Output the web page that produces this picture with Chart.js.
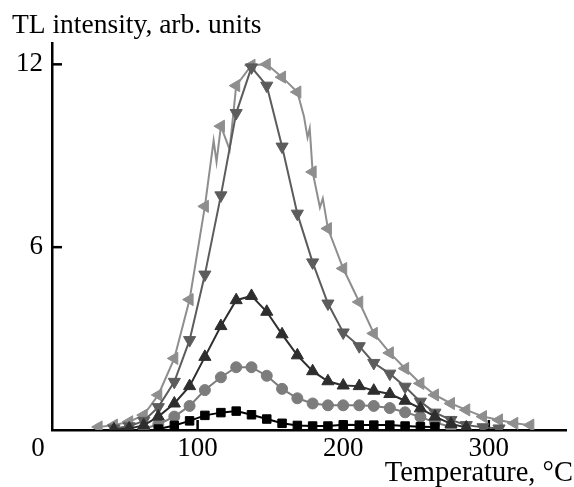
<!DOCTYPE html>
<html>
<head>
<meta charset="utf-8">
<script src="https://cdn.jsdelivr.net/npm/chart.js@4.4.1/dist/chart.umd.min.js"></script>
<style>
html,body{margin:0;padding:0;background:#fff;}
#wrap{width:574px;height:487px;position:relative;}
</style>
</head>
<body>
<div id="wrap"><canvas id="c" width="574" height="487"></canvas></div>
<script>
// Temperature grid (°C) shared by all marker series
const temps = [32, 42.5, 53, 63, 73, 84, 94.5, 105, 116, 126.5, 137, 147.5, 158, 168.5, 179, 189.5, 200, 211, 221, 232, 242.5, 253, 263, 274, 284.5, 296, 307, 317.5, 328.5];

// Series values (arb. units), null = no point
const squares = [null, null, null, null, 0.03, 0.15, 0.3, 0.48, 0.57, 0.62, 0.5, 0.36, 0.22, 0.15, 0.13, 0.13, 0.17, 0.16, 0.16, 0.16, 0.13, 0.11, 0.1, null, null, null, null, null, null];
const circles = [null, null, null, 0.04, 0.18, 0.44, 0.79, 1.31, 1.73, 2.06, 2.06, 1.78, 1.35, 1.04, 0.87, 0.81, 0.81, 0.81, 0.79, 0.72, 0.58, 0.43, 0.25, 0.1, null, null, null, null, null];
const upTri = [null, 0.02, 0.05, 0.15, 0.44, 0.87, 1.44, 2.4, 3.41, 4.26, 4.4, 3.88, 3.14, 2.45, 1.93, 1.6, 1.46, 1.44, 1.29, 1.18, 0.96, 0.71, 0.44, 0.2, 0.08, null, null, null, null];
const downTri = [null, 0.05, 0.12, 0.3, 0.75, 1.58, 2.95, 5.1, 7.7, 10.4, 11.9, 11.3, 9.3, 7.1, 5.5, 4.15, 3.2, 2.75, 2.2, 1.85, 1.42, 0.93, 0.57, 0.33, 0.16, 0.09, 0.05, null, null];
const leftTri = [0.1, 0.16, 0.27, 0.49, 1.15, 2.35, 4.28, 7.34, 9.97, 11.3, 11.97, 12.0, 11.58, 11.09, 8.47, 6.61, 5.3, 4.2, 3.17, 2.53, 2.02, 1.53, 1.15, 0.87, 0.66, 0.44, 0.33, 0.22, 0.16];
// extra unmarked trace points of the largest curve (jagged parts)
const leftExtraT = [111, 113, 122, 173, 175.5, 177, 184, 186];
const leftExtraV = [9.5, 8.8, 9.2, 10.3, 9.6, 9.9, 7.3, 7.6];

// Tick values
const xTicks = [100, 200, 300];
const yTicks = [6, 12];

const FONT = "'Liberation Serif', 'Times New Roman', serif";

function pts(vals) {
  const out = [];
  vals.forEach((v, i) => { if (v !== null) out.push({x: temps[i], y: v}); });
  return out;
}
const leftLine = pts(leftTri).concat(leftExtraT.map((t, i) => ({x: t, y: leftExtraV[i]}))).sort((a, b) => a.x - b.x);

function markerDs(data, color, style, rot, r) {
  return {data, borderColor: color, backgroundColor: color, borderWidth: 2,
    pointStyle: style, rotation: rot, pointRadius: r, pointHoverRadius: r,
    pointBorderWidth: 1, tension: 0, showLine: true};
}

const overlay = {
  id: 'overlay',
  beforeDatasetsDraw(chart) {
    const {ctx, chartArea, scales} = chart;
    ctx.save();
    ctx.strokeStyle = '#000';
    ctx.lineWidth = 2.5;
    yTicks.forEach(v => {
      const y = scales.y.getPixelForValue(v);
      ctx.beginPath(); ctx.moveTo(chartArea.left, y); ctx.lineTo(chartArea.left + 10, y); ctx.stroke();
    });
    xTicks.forEach(v => {
      const x = scales.x.getPixelForValue(v);
      ctx.beginPath(); ctx.moveTo(x, chartArea.bottom); ctx.lineTo(x, chartArea.bottom - 10); ctx.stroke();
    });
    ctx.restore();
  },
  afterDraw(chart) {
    const {ctx, chartArea} = chart;
    ctx.save();
    ctx.fillStyle = '#000';
    ctx.textBaseline = 'alphabetic';
    ctx.textAlign = 'left';
    ctx.font = '27.5px ' + FONT;
    ctx.fillText('TL intensity, arb. units', 12, 33);
    ctx.textAlign = 'right';
    ctx.font = '28.5px ' + FONT;
    ctx.fillText('Temperature, °C', 573, 481);
    ctx.textAlign = 'center';
    ctx.textBaseline = 'middle';
    ctx.font = '27px ' + FONT;
    ctx.fillText('0', chartArea.left - 14, 449);
    ctx.restore();
  }
};

new Chart(document.getElementById('c'), {
  type: 'line',
  data: {
    datasets: [
      markerDs(pts(squares), '#000000', 'rect', 0, 6),
      markerDs(pts(upTri), '#2e2e2e', 'triangle', 0, 7),
      markerDs(pts(circles), '#7c7c7c', 'circle', 0, 5.5),
      markerDs(pts(downTri), '#5c5c5c', 'triangle', 180, 7),
      Object.assign(markerDs(leftLine, '#8e8e8e', 'triangle', 270, 7), {
        pointRadius: ctx => (leftExtraT.includes(ctx.raw && ctx.raw.x) ? 0 : 7)
      })
    ]
  },
  options: {
    responsive: false,
    animation: false,
    events: [],
    layout: {padding: {top: 43, right: 1, left: 0, bottom: 0}},
    plugins: {legend: {display: false}, tooltip: {enabled: false}, title: {display: false}},
    scales: {
      x: {
        type: 'linear', min: 0, max: 353,
        afterBuildTicks: s => { s.ticks = xTicks.map(v => ({value: v})); },
        afterFit: s => { s.height = 57; },
        grid: {display: false, drawTicks: false},
        border: {display: true, color: '#000', width: 2.5},
        ticks: {color: '#000', font: {family: FONT, size: 27}, padding: 3, maxRotation: 0, autoSkip: false}
      },
      y: {
        type: 'linear', min: 0, max: 12.7,
        afterBuildTicks: s => { s.ticks = yTicks.map(v => ({value: v})); },
        afterFit: s => { s.width = 52; },
        grid: {display: false, drawTicks: false},
        border: {display: true, color: '#000', width: 2.5},
        ticks: {color: '#000', font: {family: FONT, size: 27}, padding: 9}
      }
    }
  },
  plugins: [overlay]
});
</script>
</body>
</html>
